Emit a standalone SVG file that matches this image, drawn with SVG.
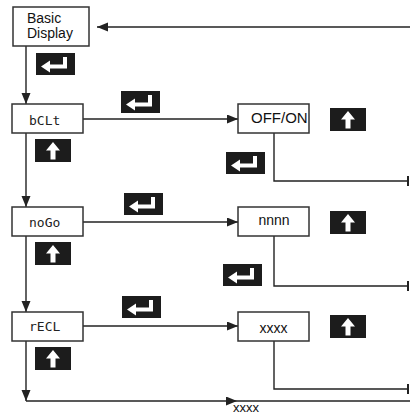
<svg xmlns="http://www.w3.org/2000/svg" width="410" height="416" viewBox="0 0 410 416">
<defs>
<marker id="ah" markerUnits="userSpaceOnUse" markerWidth="12" markerHeight="10" refX="11" refY="4.5" orient="auto">
<path d="M0,0 L11,4.5 L0,9 z" fill="#222"/>
</marker>
<g id="enter">
<rect x="0" y="0" width="39" height="22" fill="#1c1c1c"/>
<path d="M27,4 h4 v11.5 h-17 v4 l-9,-6 l9,-6 v4 h13 z" fill="#fff"/>
</g>
<g id="up">
<rect x="0" y="0" width="36" height="23" fill="#1c1c1c"/>
<path d="M18,3 l7,8.5 h-4.5 v9 h-5 v-9 h-4.5 z" fill="#fff"/>
</g>
</defs>
<style>
.box{fill:#fff;stroke:#333;stroke-width:1.5}
.ln{fill:none;stroke:#222;stroke-width:1.4}
.tick{stroke:#222;stroke-width:2}
.t{font-family:"Liberation Sans",Arial,sans-serif;fill:#111}
.seg{font-family:"DejaVu Sans Mono",monospace;font-size:13px;fill:#222}
</style>
<g id="connectors">
<line class="ln" x1="410" y1="27" x2="97" y2="27" marker-end="url(#ah)"/>
<line class="ln" x1="26" y1="46" x2="26" y2="104" marker-end="url(#ah)"/>
<line class="ln" x1="26" y1="133" x2="26" y2="207" marker-end="url(#ah)"/>
<line class="ln" x1="26" y1="236" x2="26" y2="312" marker-end="url(#ah)"/>
<line class="ln" x1="26" y1="341" x2="26" y2="401" marker-end="url(#ah)"/>
<line class="ln" x1="26" y1="401" x2="237" y2="401" marker-end="url(#ah)"/>
<line class="ln" x1="237" y1="401" x2="410" y2="401"/>
<line class="ln" x1="83" y1="119" x2="238" y2="119" marker-end="url(#ah)"/>
<line class="ln" x1="83" y1="222" x2="238" y2="222" marker-end="url(#ah)"/>
<line class="ln" x1="83" y1="326" x2="238" y2="326" marker-end="url(#ah)"/>
<polyline class="ln" points="274,133 274,181 408,181"/>
<line class="tick" x1="408" y1="176" x2="408" y2="186"/>
<polyline class="ln" points="274,236 274,286 408,286"/>
<line class="tick" x1="408" y1="281" x2="408" y2="291"/>
<polyline class="ln" points="274,341 274,389 408,389"/>
<line class="tick" x1="408" y1="384" x2="408" y2="394"/>
</g>
<g id="basic-display">
<rect class="box" x="13" y="7" width="76" height="39"/>
<text class="t" x="27" y="23" font-size="14">Basic</text>
<text class="t" x="27" y="38" font-size="14">Display</text>
</g>
<g id="bclt">
<rect class="box" x="12" y="104" width="71" height="29"/>
<text class="seg" x="29" y="125">bCLt</text>
</g>
<g id="nogo">
<rect class="box" x="12" y="207" width="71" height="29"/>
<text class="seg" x="29" y="227">noGo</text>
</g>
<g id="recl">
<rect class="box" x="12" y="312" width="71" height="29"/>
<text class="seg" x="29" y="331">rECL</text>
</g>
<g id="offon">
<rect class="box" x="238" y="104" width="71" height="29"/>
<text class="t" x="251" y="123" font-size="15">OFF/ON</text>
</g>
<g id="nnnn">
<rect class="box" x="238" y="207" width="71" height="29"/>
<text class="t" x="274" y="225" font-size="14" text-anchor="middle">nnnn</text>
</g>
<g id="xxxx-box">
<rect class="box" x="238" y="312" width="71" height="29"/>
<text class="t" x="273.5" y="333" font-size="14" text-anchor="middle">xxxx</text>
</g>
<g id="xxxx-label">
<text class="t" x="233" y="412" font-size="13">xxxx</text>
</g>
<g id="icons">
<use href="#enter" x="36" y="53"/>
<use href="#enter" x="121" y="91"/>
<use href="#up" x="35" y="139"/>
<use href="#up" x="330" y="108"/>
<use href="#enter" x="226" y="152"/>
<use href="#enter" x="124" y="193"/>
<use href="#up" x="35" y="242"/>
<use href="#up" x="330" y="211"/>
<use href="#enter" x="223" y="264"/>
<use href="#enter" x="122" y="296"/>
<use href="#up" x="35" y="347"/>
<use href="#up" x="330" y="315"/>
</g>
</svg>
